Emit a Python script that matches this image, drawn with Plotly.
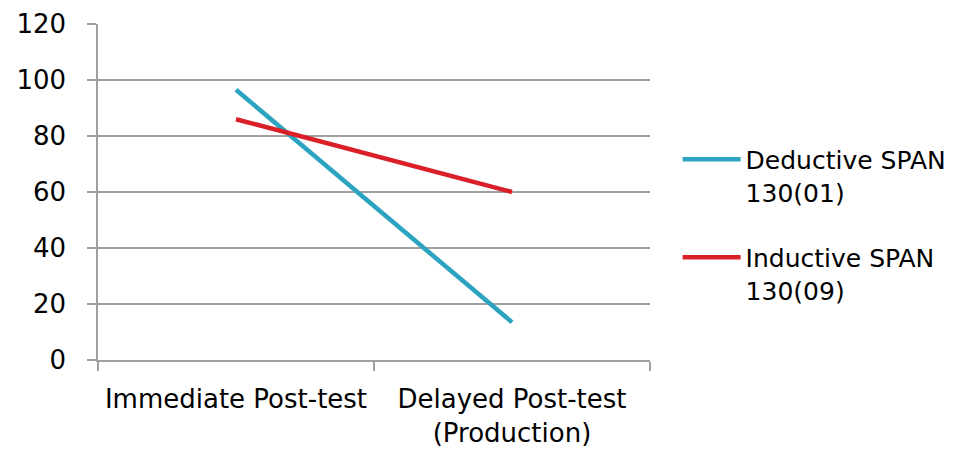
import plotly.graph_objects as go

categories = ["Immediate Post-test", "Delayed Post-test<br>(Production)"]
deductive = [96.5, 13.5]
inductive = [86, 60]
series_names = ["Deductive SPAN<br>130(01)", "Inductive SPAN<br>130(09)"]
y_ticks = [0, 20, 40, 60, 80, 100, 120]

FONT = "DejaVu Sans"
GRID = "#a0a0a0"

fig = go.Figure()
fig.add_trace(go.Scatter(x=categories, y=deductive, mode="lines", name=series_names[0],
                         legendgroup="a",
                         line=dict(color="#2ca3c1", width=4.5)))
fig.add_trace(go.Scatter(x=categories, y=inductive, mode="lines", name=series_names[1],
                         legendgroup="b",
                         line=dict(color="#da1f29", width=4.5)))

# the page body has an 8px margin, so the figure is drawn 8px in from the top-left
fig.update_layout(
    template="none",
    width=947, height=447,
    margin=dict(l=90, r=305, t=16, b=95, pad=0, autoexpand=False),
    paper_bgcolor="white", plot_bgcolor="white",
    font=dict(family=FONT, size=26, color="#000000"),
    showlegend=True,
    legend=dict(x=1.05, xanchor="left", y=0.665, yanchor="top",
                valign="top", traceorder="grouped", tracegroupgap=30,
                itemwidth=58,
                font=dict(family=FONT, size=25, color="#000000"),
                bgcolor="rgba(0,0,0,0)"),
    xaxis=dict(type="category", tickson="boundaries", ticks="outside", ticklen=9,
               tickcolor=GRID, tickwidth=1.5, showline=True, linecolor=GRID, linewidth=1.5,
               showgrid=False, ticklabelstandoff=15, tickangle=0,
               range=[-0.5, 1.5], automargin=False),
    yaxis=dict(range=[0, 120], tickvals=y_ticks, ticks="outside", ticklen=9,
               tickcolor=GRID, tickwidth=1.5, showline=True, linecolor=GRID, linewidth=1.5,
               showgrid=True, gridcolor=GRID, gridwidth=1.5, zeroline=False,
               ticklabelstandoff=16, automargin=False),
)

fig.write_html("out.html")
